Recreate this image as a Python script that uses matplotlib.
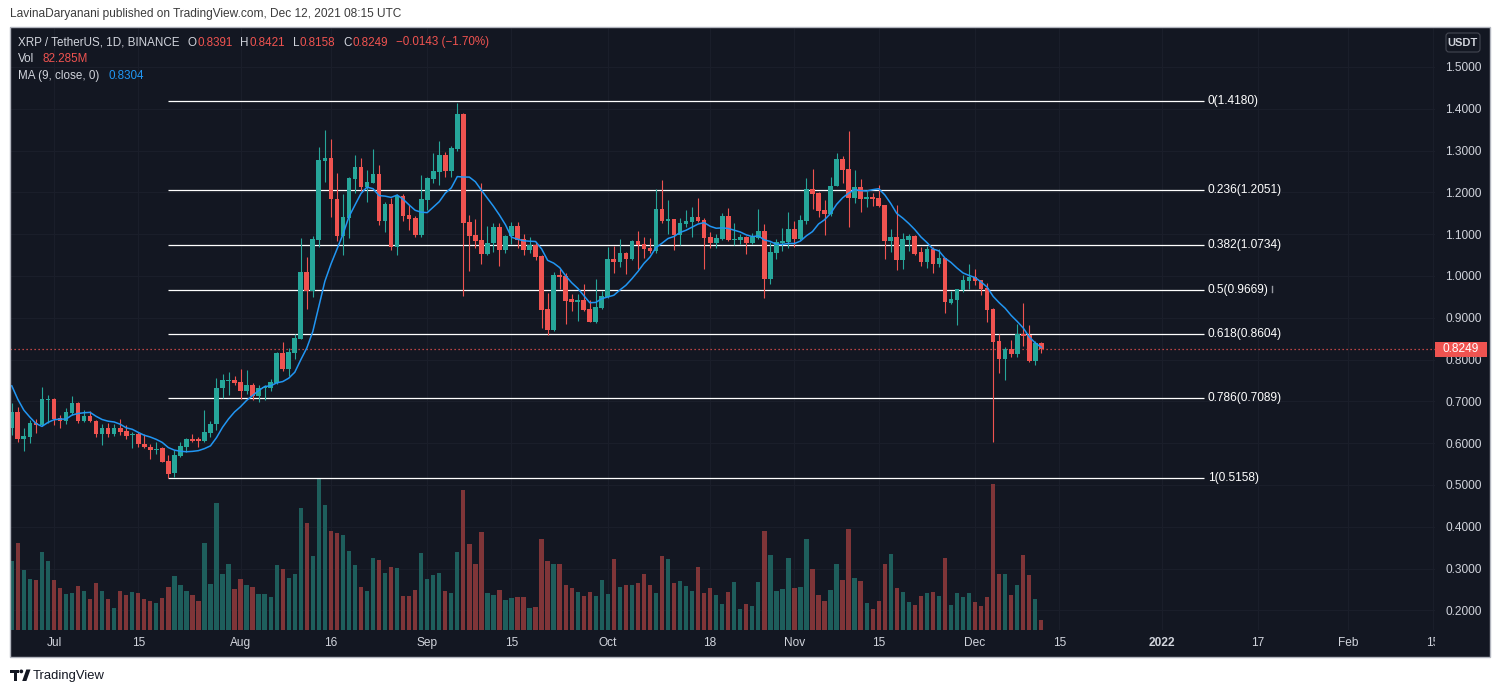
import numpy as np
import pandas as pd
import matplotlib
matplotlib.use("Agg")
import matplotlib.pyplot as plt
from matplotlib.patches import Rectangle, FancyBboxPatch, Polygon, Circle
from matplotlib.transforms import Bbox, TransformedBbox, blended_transform_factory

plt.rcParams['font.family'] = ['Liberation Sans', 'DejaVu Sans']

# ---------------- data ----------------
start_date = "2021-06-24"
opens = [0.637, 0.675, 0.610, 0.616, 0.649, 0.644, 0.704, 0.706, 0.660, 0.654,
         0.673, 0.696, 0.652, 0.665, 0.654, 0.621, 0.637, 0.622, 0.637, 0.630,
         0.619, 0.621, 0.599, 0.592, 0.583, 0.589, 0.558, 0.528, 0.570, 0.592,
         0.610, 0.610, 0.606, 0.624, 0.645, 0.731, 0.748, 0.752, 0.747, 0.724,
         0.7396, 0.7118, 0.7317, 0.7309, 0.7452, 0.8154, 0.7787, 0.8154, 0.8504, 1.0090,
         0.9652, 1.0863, 1.2760, 1.2816, 1.1836, 1.0967, 1.1397, 1.2330, 1.2601, 1.2123,
         1.2234, 1.2441, 1.1326, 1.1724, 1.0688, 1.1915, 1.1461, 1.1389, 1.0983, 1.1820,
         1.2330, 1.2489, 1.2896, 1.2521, 1.3039, 1.3876, 1.1294, 1.0983, 1.0863, 1.0529,
         1.0784, 1.1166, 1.0624, 1.0959, 1.1198, 1.0879, 1.0624, 1.0744, 1.0481, 0.9206,
         0.8711, 1.0027, 1.0003, 0.9453, 0.9389, 0.9429, 0.9206, 0.8911, 0.9230, 0.9508,
         1.0401, 1.0345, 1.0545, 1.0401, 1.0839, 1.0768, 1.0680, 1.0608, 1.1597, 1.1326,
         1.1358, 1.0983, 1.1246, 1.1302, 1.1413, 1.1342, 1.0927, 1.0800, 1.0887, 1.1437,
         1.0863, 1.0863, 1.0927, 1.0800, 1.0919, 1.1079, 0.9931, 1.0560, 1.0784, 1.0808,
         1.1126, 1.0879, 1.1326, 1.2083, 1.1987, 1.1581, 1.1485, 1.2162, 1.2800, 1.2561,
         1.1876, 1.2131, 1.1852, 1.1900, 1.1868, 1.1700, 1.0847, 1.0935, 1.0385, 1.0863,
         1.0967, 1.0576, 1.0337, 1.0648, 1.0289, 1.0425, 0.9365, 0.9429, 0.9668, 0.9891,
         0.9987, 0.9907, 0.9708, 0.9214, 0.8448, 0.8018, 0.8257, 0.8138, 0.8616, 0.8592,
         0.7971, 0.8391]
highs = [0.695, 0.687, 0.636, 0.656, 0.657, 0.735, 0.716, 0.708, 0.668, 0.684,
         0.712, 0.698, 0.680, 0.676, 0.656, 0.646, 0.648, 0.646, 0.658, 0.643,
         0.626, 0.627, 0.622, 0.597, 0.603, 0.591, 0.572, 0.584, 0.604, 0.612,
         0.622, 0.614, 0.680, 0.654, 0.755, 0.766, 0.771, 0.760, 0.778, 0.776,
         0.7452, 0.7396, 0.7396, 0.7540, 0.8185, 0.8425, 0.8273, 0.8616, 1.0903, 1.0449,
         1.0959, 1.3079, 1.3494, 1.3270, 1.2457, 1.1963, 1.2360, 1.2896, 1.2824, 1.2537,
         1.3039, 1.2657, 1.1772, 1.1860, 1.1963, 1.1963, 1.1700, 1.1445, 1.2418, 1.2362,
         1.2936, 1.3238, 1.2975, 1.3111, 1.4147, 1.3908, 1.1461, 1.1358, 1.2218, 1.1198,
         1.1262, 1.1262, 1.0983, 1.1294, 1.1294, 1.1007, 1.0927, 1.0824, 1.0500, 0.9588,
         1.0090, 1.0170, 1.0066, 0.9572, 0.9572, 0.9811, 0.9429, 0.9923, 0.9652, 1.0704,
         1.0720, 1.0879, 1.0584, 1.0863, 1.1079, 1.0927, 1.0903, 1.2075, 1.2298, 1.1820,
         1.1370, 1.1382, 1.1581, 1.1644, 1.1868, 1.1397, 1.1047, 1.1007, 1.1501, 1.1629,
         1.1262, 1.1007, 1.0959, 1.1023, 1.1597, 1.1246, 1.0824, 1.0879, 1.1142, 1.1525,
         1.1318, 1.1461, 1.2346, 1.2561, 1.2000, 1.1820, 1.2362, 1.2944, 1.2872, 1.3470,
         1.2537, 1.2322, 1.2035, 1.1995, 1.2178, 1.1710, 1.1126, 1.1700, 1.1023, 1.1007,
         1.0980, 1.0688, 1.0728, 1.0704, 1.0648, 1.0430, 0.9652, 0.9690, 1.0027, 1.0289,
         1.0170, 0.9910, 0.9843, 0.9245, 0.8616, 0.8313, 0.8472, 0.8855, 0.9365, 0.8831,
         0.8448, 0.8421]
lows = [0.620, 0.604, 0.582, 0.600, 0.625, 0.640, 0.648, 0.644, 0.636, 0.646,
        0.668, 0.648, 0.650, 0.650, 0.615, 0.595, 0.615, 0.618, 0.619, 0.610,
        0.588, 0.591, 0.588, 0.562, 0.573, 0.554, 0.516, 0.520, 0.568, 0.578,
        0.602, 0.592, 0.604, 0.615, 0.632, 0.708, 0.716, 0.740, 0.705, 0.718,
        0.7022, 0.6974, 0.7038, 0.7237, 0.7420, 0.7739, 0.7612, 0.8010, 0.8488, 0.9222,
        0.9508, 1.0704, 1.2258, 1.1421, 1.0847, 1.0513, 1.0903, 1.1995, 1.2043, 1.1780,
        1.2218, 1.1214, 1.1063, 1.0624, 1.0513, 1.1326, 1.1102, 1.0943, 1.0927, 1.1581,
        1.2218, 1.2178, 1.2362, 1.2362, 1.3000, 0.9524, 1.0130, 1.0664, 1.0289, 1.0505,
        1.0584, 1.0250, 1.0560, 1.0768, 1.0664, 1.0505, 1.0560, 1.0385, 0.8751, 0.8592,
        0.8696, 0.9684, 0.8855, 0.9174, 0.8935, 0.9174, 0.8890, 0.8871, 0.9206, 0.9469,
        1.0082, 1.0226, 1.0050, 1.0385, 1.0162, 1.0425, 1.0545, 1.0560, 1.1262, 1.1007,
        1.0624, 1.0744, 1.1182, 1.0927, 1.1302, 1.0170, 1.0664, 1.0664, 1.0863, 1.0831,
        1.0744, 1.0768, 1.0529, 1.0768, 1.0895, 0.9485, 0.9811, 1.0409, 1.0608, 1.0680,
        1.0704, 1.0863, 1.1246, 1.1605, 1.1421, 1.0983, 1.1437, 1.2150, 1.2234, 1.1182,
        1.1756, 1.1541, 1.1660, 1.1676, 1.1644, 1.0409, 1.0584, 1.0146, 1.0170, 1.0608,
        1.0510, 1.0242, 1.0202, 1.0082, 1.0226, 0.9126, 0.9333, 0.8831, 0.9628, 0.9692,
        0.9787, 0.9548, 0.8911, 0.6018, 0.7691, 0.7500, 0.8058, 0.8058, 0.8337, 0.7931,
        0.7859, 0.8158]
closes = [0.675, 0.610, 0.617, 0.649, 0.644, 0.706, 0.706, 0.658, 0.654, 0.675,
          0.696, 0.652, 0.665, 0.652, 0.621, 0.637, 0.622, 0.637, 0.627, 0.618,
          0.621, 0.598, 0.590, 0.583, 0.586, 0.556, 0.527, 0.572, 0.594, 0.610,
          0.606, 0.606, 0.626, 0.646, 0.732, 0.750, 0.752, 0.745, 0.724, 0.740,
          0.7118, 0.7317, 0.7341, 0.7460, 0.8154, 0.7787, 0.8185, 0.8512, 1.0090, 0.9652,
          1.0879, 1.2776, 1.2816, 1.1836, 1.0967, 1.1405, 1.2346, 1.2601, 1.2139, 1.2250,
          1.2441, 1.1326, 1.1724, 1.0688, 1.1915, 1.1445, 1.1373, 1.0983, 1.1844, 1.2346,
          1.2513, 1.2896, 1.2521, 1.3055, 1.3876, 1.1278, 1.0967, 1.0847, 1.0529, 1.0784,
          1.1166, 1.0624, 1.0959, 1.1198, 1.0863, 1.0624, 1.0744, 1.0465, 0.9190, 0.8711,
          1.0027, 0.9987, 0.9413, 0.9389, 0.9429, 0.9190, 0.8911, 0.9253, 0.9524, 1.0401,
          1.0345, 1.0545, 1.0401, 1.0839, 1.0744, 1.0656, 1.0608, 1.1597, 1.1326, 1.1358,
          1.0983, 1.1262, 1.1318, 1.1413, 1.1326, 1.0919, 1.0800, 1.0903, 1.1437, 1.0863,
          1.0887, 1.0927, 1.0800, 1.0943, 1.1079, 0.9931, 1.0576, 1.0808, 1.0839, 1.1126,
          1.0887, 1.1342, 1.2083, 1.1971, 1.1565, 1.1485, 1.2162, 1.2800, 1.2537, 1.1876,
          1.2131, 1.1844, 1.1900, 1.1852, 1.1684, 1.0847, 1.0935, 1.0385, 1.0887, 1.0967,
          1.0529, 1.0337, 1.0648, 1.0289, 1.0425, 0.9389, 0.9453, 0.9684, 0.9907, 0.9987,
          0.9891, 0.9692, 0.9190, 0.8432, 0.8018, 0.8257, 0.8138, 0.8616, 0.8576, 0.7971,
          0.8391, 0.8249]
# daily volume, millions
volumes_m = [560, 705, 484, 418, 410, 631, 558, 410, 344, 295,
             303, 361, 320, 254, 385, 320, 254, 180, 320, 287,
             312, 303, 254, 238, 221, 262, 353, 435, 369, 320,
             287, 238, 705, 377, 1033, 459, 533, 336, 418, 369,
             353, 295, 295, 271, 525, 492, 426, 451, 992, 869,
             599, 1235, 1017, 804, 787, 771, 640, 525, 353, 320,
             582, 566, 467, 508, 500, 279, 279, 328, 623, 418,
             443, 467, 320, 303, 631, 1140, 697, 533, 795, 303,
             287, 328, 246, 262, 271, 271, 180, 189, 738, 558,
             533, 533, 369, 344, 312, 279, 312, 279, 410, 295,
             574, 353, 369, 369, 385, 451, 369, 303, 599, 574,
             385, 402, 361, 320, 508, 303, 344, 287, 213, 312,
             394, 172, 213, 197, 394, 804, 607, 320, 336, 582,
             344, 353, 738, 492, 287, 238, 328, 533, 410, 820,
             426, 402, 221, 172, 238, 533, 615, 344, 312, 230,
             205, 279, 303, 312, 279, 582, 205, 303, 271, 303,
             230, 197, 271, 1189, 459, 451, 287, 369, 607, 443,
             254, 82]
# closes of the 8 sessions before the first visible candle (for the MA)
pre_closes = [0.90, 0.85, 0.80, 0.78, 0.77, 0.62, 0.60, 0.64]
ma_length = 9

fib_levels = ["0", "0.236", "0.382", "0.5", "0.618", "0.786", "1"]
fib_prices = [1.4180, 1.2051, 1.0734, 0.9669, 0.8604, 0.7089, 0.5158]
fib_start = "2021-07-20"
fib_end = "2022-01-08"

price_ticks = [0.2, 0.3, 0.4, 0.5, 0.6, 0.7, 0.8, 0.9, 1.0, 1.1, 1.2, 1.3, 1.4, 1.5]
time_ticks = ["2021-07-01", "2021-07-15", "2021-08-01", "2021-08-16", "2021-09-01",
              "2021-09-15", "2021-10-01", "2021-10-18", "2021-11-01", "2021-11-15",
              "2021-12-01", "2021-12-15", "2022-01-01", "2022-01-17", "2022-02-01",
              "2022-02-15"]
time_labels = ["Jul", "15", "Aug", "16", "Sep", "15", "Oct", "18", "Nov", "15",
               "Dec", "15", "2022", "17", "Feb", "15"]

title_text = "LavinaDaryanani published on TradingView.com, Dec 12, 2021 08:15 UTC"
symbol_text = "XRP / TetherUS, 1D, BINANCE"
ohlc_text = [("O", "0.8391"), ("H", "0.8421"), ("L", "0.8158"), ("C", "0.8249")]
change_text = "\u22120.0143 (\u22121.70%)"
vol_text = "82.285M"
ma_label = "MA (9, close, 0)"
ma_value = "0.8304"
last_price = "0.8249"

# ---------------- styling ----------------
BG = '#131722'
UP = '#26a69a'
DN = '#ef5350'
UPV = '#1e5e5c'
DNV = '#7f3538'
TXT = '#d1d4dc'
MA_C = '#2196f3'
GRID = '#1a1e2a'
FS = 8.4

W, H = 1501, 693
fig = plt.figure(figsize=(W / 100, H / 100), dpi=100)
fig.patch.set_facecolor('white')


def frect(x0, y0, x1, y1):
    return [x0 / W, 1 - y1 / H, (x1 - x0) / W, (y1 - y0) / H]


bg = fig.add_axes([0, 0, 1, 1], zorder=-2)
bg.set_xlim(0, W)
bg.set_ylim(H, 0)
bg.axis('off')
bg.add_patch(Rectangle((10, 27), 1480, 630, facecolor=BG, edgecolor='none'))

ax_v = fig.add_axes(frect(10, 28, 1435, 630), zorder=0)
ax = fig.add_axes(frect(10, 28, 1435, 630), zorder=1, sharex=ax_v)
for a in (ax, ax_v):
    a.patch.set_visible(False)
    for s in a.spines.values():
        s.set_visible(False)

o = np.array(opens)
h = np.array(highs)
l = np.array(lows)
c = np.array(closes)
v = np.array(volumes_m)
n = len(c)
t0 = pd.Timestamp(start_date)
x = np.arange(n)


def didx(d):
    return (pd.Timestamp(d) - t0).days


up = c >= o
cols = np.where(up, UP, DN)
vcols = np.where(up, UPV, DNV)

# price scale limits
ax.set_xlim(-0.30, 236.4)
ax.set_ylim(0.15311, 1.5933)
tick_pos = [didx(d) for d in time_ticks]

# grid (behind the volume bars)
ax_v.hlines(price_ticks, 0, 1, transform=blended_transform_factory(ax_v.transAxes, ax.transData),
            colors=GRID, lw=0.8, zorder=0)
ax_v.vlines(tick_pos, 0, 1, transform=blended_transform_factory(ax_v.transData, ax_v.transAxes),
            colors=GRID, lw=0.8, zorder=0)

# volume
ax_v.bar(x, v, width=0.72, color=vcols, lw=0, zorder=1)
ax_v.set_ylim(0, v.max() * 602 / 152)
ax_v.set_yticks([])
ax_v.tick_params(bottom=False, labelbottom=False, left=False, labelleft=False)

ax.set_yticks(price_ticks)
ax.set_yticklabels([f"{p:.4f}" for p in price_ticks])
ax.yaxis.tick_right()
ax.tick_params(axis='y', length=0, pad=7.5, labelcolor=TXT, labelsize=8.6)
ax.set_xticks(tick_pos)
ax.tick_params(axis='x', length=0, labelbottom=False)

# candles
ax.vlines(x, l, h, colors=cols, lw=0.8, zorder=4)
ax.bar(x, np.maximum(np.abs(c - o), 0.0022), bottom=np.minimum(o, c), width=0.78,
       color=cols, lw=0, zorder=5)

# moving average
allc = np.concatenate([pre_closes, c])
ma = np.convolve(allc, np.ones(ma_length) / ma_length, mode='valid')
ax.plot(x, ma, color=MA_C, lw=1.1, zorder=6)

# fib retracement
fx0, fx1 = didx(fib_start), didx(fib_end)
ax.hlines(fib_prices, fx0, fx1, colors='white', lw=0.9, zorder=3)
for lv, fp in zip(fib_levels, fib_prices):
    ax.annotate(f"{lv}({fp:.4f})", xy=(fx1, fp), xytext=(3, 0), textcoords='offset points',
                color='white', va='center', ha='left', fontsize=8.6, zorder=7)

# last price line + label
ax.axhline(c[-1], color=DN, lw=0.9, ls=(0, (1, 2.2)), zorder=3.5)
tr = blended_transform_factory(ax.transAxes, ax.transData)
ax.add_patch(Rectangle((1.0, c[-1] - 0.018), 52 / 1425, 0.036, transform=tr,
                       facecolor=DN, edgecolor='none', clip_on=False, zorder=20))
ax.text(1.0 + 26 / 1425, c[-1], last_price, transform=tr, color='white', fontsize=8.6,
        ha='center', va='center', zorder=21, clip_on=False)

# time axis labels (clipped at the price scale)
clipbox = TransformedBbox(Bbox([[0, -1], [1, 0]]), ax.transAxes)
trx = blended_transform_factory(ax.transData, ax.transAxes)
for d, lab in zip(time_ticks, time_labels):
    tt = ax.text(didx(d), -0.0216, lab, transform=trx, ha='center', va='center',
                 color=TXT, fontsize=8.6, fontweight='bold' if lab == '2022' else 'normal')
    tt.set_clip_path(None)
    tt.set_clip_box(clipbox)
    tt.set_clip_on(True)

# ---------------- overlay texts ----------------
fg = fig.add_axes([0, 0, 1, 1], zorder=5)
fg.set_xlim(0, W)
fg.set_ylim(H, 0)
fg.axis('off')
fg.add_patch(Rectangle((10, 27), 1480, 630, facecolor='none', edgecolor='#b2b5be', lw=1.0))


def chain(prev, s, color, gap_px):
    return fg.annotate(s, xy=(1, 0.5), xycoords=prev, xytext=(gap_px * 0.72, 0),
                       textcoords='offset points', va='center', ha='left',
                       color=color, fontsize=FS)


fg.text(10, 14.5, title_text, color='#3b3b3b', fontsize=8.6, va='center', ha='left')
t = fg.text(18, 42.5, symbol_text, color=TXT, fontsize=FS, va='center', ha='left')
for lab, val in ohlc_text:
    t = chain(t, lab, TXT, 8)
    t = chain(t, val, DN, 0.5)
chain(t, change_text, DN, 8)
t = fg.text(18, 59.5, "Vol", color=TXT, fontsize=FS, va='center', ha='left')
chain(t, vol_text, DN, 8)
t = fg.text(18, 76, ma_label, color=TXT, fontsize=FS, va='center', ha='left')
chain(t, ma_value, MA_C, 9)

fg.add_patch(FancyBboxPatch((1446, 33), 34, 19, boxstyle='round,pad=0,rounding_size=3',
                            facecolor=BG, edgecolor='#434651', lw=0.8))
fg.text(1463, 42.5, "USDT", color=TXT, fontsize=8, fontweight='bold', ha='center', va='center')
fg.plot([1272, 1272], [286, 292], color='#9598a1', lw=1)

# TradingView logo
LC = '#131722'
fg.add_patch(Rectangle((10, 669.5), 8.5, 3.6, facecolor=LC, lw=0))
fg.add_patch(Rectangle((13.6, 669.5), 3.8, 11.5, facecolor=LC, lw=0))
fg.add_patch(Circle((21.3, 671.4), 1.9, facecolor=LC, lw=0))
fg.add_patch(Polygon([(22.2, 681), (26.3, 669.5), (30.5, 669.5), (26.4, 681)], closed=True,
                     facecolor=LC, lw=0))
fg.text(33, 675.5, "TradingView", color=LC, fontsize=9.4, va='center', ha='left')

fig.savefig("out.png", dpi=100, facecolor='white')
